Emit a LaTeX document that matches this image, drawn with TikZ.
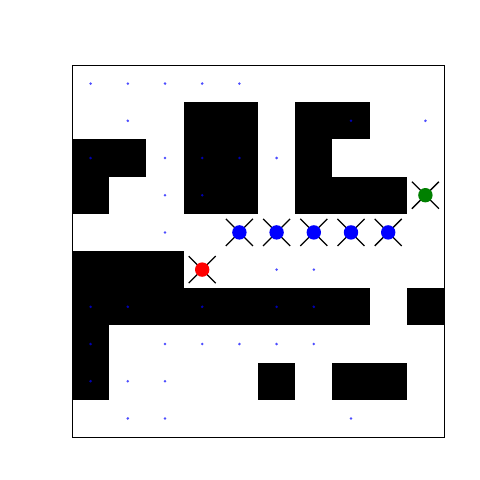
\documentclass[tikz,border=0pt]{standalone}
\begin{document}
\begin{tikzpicture}[x=0.025cm,y=-0.025cm,
  wall/.style={fill=black},
  dot/.style={circle,fill=blue,fill opacity=0.7,inner sep=0pt,minimum size=0.07cm},
  agent/.style={circle,inner sep=0pt,minimum size=0.36cm},
  cross/.style={line width=0.9pt,black}]
\useasboundingbox (0,0) rectangle (480,480);
\fill[white] (0,0) rectangle (480,480);
% walls
\foreach \r/\cols in {1/{3,4,6,7},2/{0,1,3,4,6},3/{0,3,4,6,7,8},5/{0,1,2},6/{0,1,2,3,4,5,6,7,9},7/{0},8/{0,5,7,8}} {
  \foreach \c in \cols {
    \fill[wall] (72+37.2*\c,65+37.2*\r) rectangle ++(37.2,37.2);
  }
}
% frame
\draw[line width=0.7pt] (72,65) rectangle (444,437);
% small dots
\foreach \c/\r [count=\i] in {0/0,1/0,2/0,3/0,4/0,
  1/1,7/1,9/1,
  0/2,2/2,3/2,4/2,5/2,
  2/3,3/3,
  2/4,
  5/5,6/5,
  0/6,1/6,3/6,5/6,6/6,
  0/7,2/7,3/7,4/7,5/7,6/7,
  0/8,1/8,2/8,
  1/9,2/9,7/9} {
  \node[dot] (d\i) at (90.6+37.2*\c,83.6+37.2*\r) {};
}
% agents
\foreach \c/\r/\col/\nm in {4/4/blue/b1,5/4/blue/b2,6/4/blue/b3,7/4/blue/b4,8/4/blue/b5,3/5/red/r1,9/3/{green!50!black}/g1} {
  \coordinate (p\nm) at (90.6+37.2*\c,83.6+37.2*\r);
  \draw[cross] ([shift={(-13.5,-13.5)}]p\nm) -- ([shift={(13.5,13.5)}]p\nm);
  \draw[cross] ([shift={(-13.5,13.5)}]p\nm) -- ([shift={(13.5,-13.5)}]p\nm);
  \node[agent,fill=\col] (\nm) at (p\nm) {};
}
\end{tikzpicture}
\end{document}
